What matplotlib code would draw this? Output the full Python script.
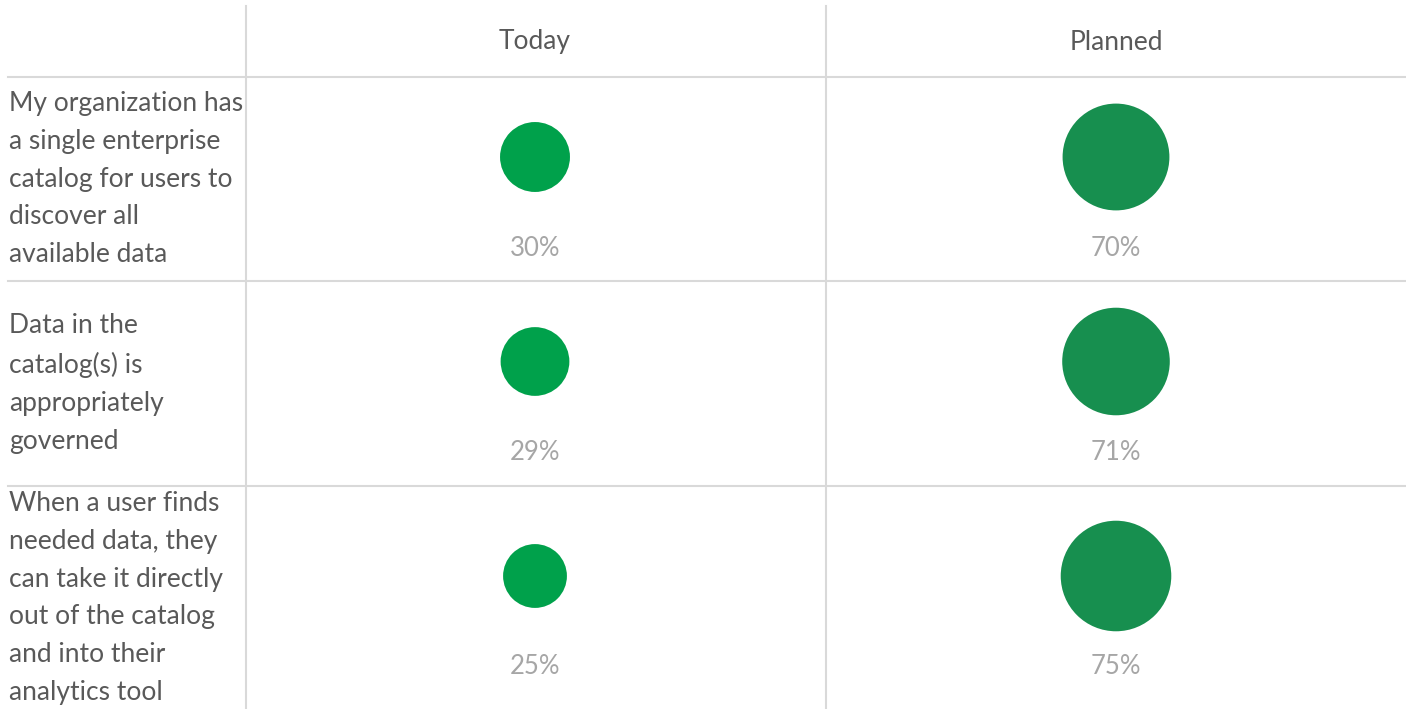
import numpy as np
import matplotlib
matplotlib.use('Agg')
import matplotlib.pyplot as plt

# Datos
preguntas = [
    "My organization has\na single enterprise\ncatalog for users to\ndiscover all\navailable data",
    "Data in the\ncatalog(s) is\nappropriately\ngoverned",
    "When a user finds\nneeded data, they\ncan take it directly\nout of the catalog\nand into their\nanalytics tool",
]
columnas = ["Today", "Planned"]
today = [30, 29, 25]
planned = [70, 71, 75]

colores = ["#00A14B", "#178F4F"]
GRIS_LINEA = "#d9d9d9"
GRIS_TEXTO = "#595959"
GRIS_PCT = "#a6a6a6"

plt.rcParams['font.family'] = ['Lato', 'DejaVu Sans']

W, H = 1406, 709
fig = plt.figure(figsize=(W / 100, H / 100), dpi=100)
ax = fig.add_axes([0, 0, 1, 1])
ax.set_xlim(0, W)
ax.set_ylim(H, 0)
ax.axis('off')

# Layout (pixeles)
x_col = [246, 826, W]
x_centros = [(x_col[0] + x_col[1]) / 2 - 1, (x_col[1] + x_col[2]) / 2]
y_filas = [77, 281, 486, 710]

# Lineas de la tabla
for xv in x_col[:2]:
    ax.plot([xv, xv], [6, H], color=GRIS_LINEA, lw=1.5)
for yh in y_filas[:3]:
    ax.plot([8, W], [yh, yh], color=GRIS_LINEA, lw=1.5)

# Encabezados
for j, nombre in enumerate(columnas):
    ax.text(x_centros[j], 42, nombre, ha='center', va='center',
            fontsize=19, color=GRIS_TEXTO)

valores = [today, planned]
for i, texto in enumerate(preguntas):
    top, bot = y_filas[i], y_filas[i + 1]
    medio = (top + bot) / 2
    ax.text(9, medio, texto, ha='left', va='center',
            fontsize=19, color=GRIS_TEXTO, linespacing=1.64)
    y_circ = medio - 22
    y_pct = medio + 69
    for j in range(2):
        v = valores[j][i]
        # area proporcional al valor
        ax.scatter(x_centros[j], y_circ, s=84.5 * v, color=colores[j],
                   edgecolors='none', zorder=3)
        ax.text(x_centros[j], y_pct, f"{v}%", ha='center', va='center',
                fontsize=18.5, color=GRIS_PCT)

fig.savefig('out.png', dpi=100)
